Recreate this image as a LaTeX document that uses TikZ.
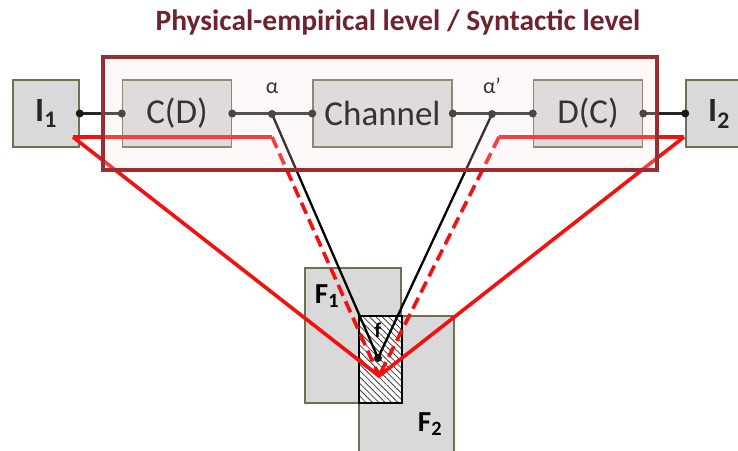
\documentclass[tikz,border=0pt]{standalone}
\usepackage{fontspec}
\setmainfont{Carlito}
\usetikzlibrary{positioning,patterns.meta}
\definecolor{boxgray}{RGB}{217,217,217}
\definecolor{boxline}{RGB}{110,112,85}
\definecolor{levelred}{RGB}{155,45,50}
\definecolor{titlered}{RGB}{110,35,45}
\definecolor{linkred}{RGB}{245,15,15}
\definecolor{levelfill}{RGB}{255,225,225}
\tikzset{
  block/.style={draw=boxline, line width=1.5pt, fill=boxgray, rectangle, minimum height=67pt, inner sep=0pt, text=black, font=\fontsize{35}{35}\selectfont},
  ident/.style={block, minimum width=66pt, text=black!85, font=\bfseries\fontsize{34}{34}\selectfont},
  field/.style={draw=boxline, line width=1.5pt, fill=boxgray, rectangle, inner sep=0pt},
  flabel/.style={font=\bfseries\fontsize{29}{29}\selectfont, text=black},
  port/.style={circle, fill=black!90, inner sep=0pt, minimum size=8pt},
  wire/.style={line width=2.2pt, draw=black!85},
  mapping/.style={line width=2.3pt, draw=black},
  plane/.style={line width=3.6pt, draw=linkred, line join=miter},
  planedash/.style={plane, dash pattern=on 12pt off 6pt},
  level/.style={draw=levelred, line width=4pt, fill=levelfill, fill opacity=0.22, rectangle, inner sep=0pt}
}
\begin{document}
\begin{tikzpicture}[x=1pt, y=-1pt]
  \useasboundingbox (0,0) rectangle (738,450);
  \clip (0,0) rectangle (738,450);
  % blocks of the chain
  \node[ident] (i1) at (46,113.5) {I\textsubscript{1}};
  \node[block, minimum width=109pt, right=42pt of i1] (cd) {C(D)};
  \node[block, minimum width=139pt, right=80pt of cd] (channel) {Channel};
  \node[block, minimum width=109pt, right=80pt of channel] (dc) {D(C)};
  \node[ident, right=42pt of dc] (i2) {I\textsubscript{2}};
  % fields and their overlap
  \node[field, minimum width=96pt, minimum height=135pt] (f1) at (353,335.5) {};
  \node[field, minimum width=95pt, minimum height=138pt] (f2) at (406.5,385) {};
  \node[draw=black, line width=1.5pt, minimum width=43pt, minimum height=87pt, inner sep=0pt,
        preaction={fill=white}, pattern={Lines[angle=-45, distance=4.5pt, line width=0.8pt]}, pattern color=black!75] (overlap) at (380.5,359.5) {};
  \node[flabel] (f1label) at (327,296) {F\textsubscript{1}};
  \node[flabel] (f2label) at (430,424) {F\textsubscript{2}};
  \node[font=\bfseries\fontsize{21}{21}\selectfont] (flab) at (378,330) {f};
  % connections
  \draw[wire] (i1.east) -- (cd.west);
  \draw[wire] (cd.east) -- (channel.west);
  \draw[wire] (channel.east) -- (dc.west);
  \draw[wire] (dc.east) -- (i2.west);
  \coordinate (alpha) at (272,114);
  \coordinate (alphap) at (492,114);
  \node[port] (fdot) at (378,358) {};
  \draw[mapping] (alpha) -- (fdot.center);
  \draw[mapping] (alphap) -- (fdot.center);
  \foreach \p in {i1.east, cd.west, cd.east, alpha, channel.west, channel.east, alphap, dc.west, dc.east, i2.west}
    \node[port] at (\p) {};
  \node[text=black, font=\fontsize{22}{22}\selectfont, above=17pt of alpha] (alphalab) {α};
  \node[text=black, font=\fontsize{22}{22}\selectfont, above=17pt of alphap] (alphaplab) {α'};
  % semantic links
  \coordinate (i1pt) at (73,137);
  \coordinate (i2pt) at (684,137);
  \coordinate (lbend) at (272,137);
  \coordinate (rbend) at (499,137);
  \coordinate (meet) at (379,376);
  \draw[plane] (i1pt) -- (lbend);
  \draw[plane] (i2pt) -- (rbend);
  \draw[planedash] (lbend) -- (meet);
  \draw[planedash] (rbend) -- (meet);
  \draw[plane] (i1pt) -- (meet) -- (i2pt);
  % level frame and title
  \node[level, minimum width=554pt, minimum height=113pt] (frame) at (379.5,113.5) {};
  \node[text=titlered, font=\bfseries\fontsize{29.5}{29.5}\selectfont] (heading) at (398,22) {Physical-empirical level / Syntactic level};
\end{tikzpicture}
\end{document}
